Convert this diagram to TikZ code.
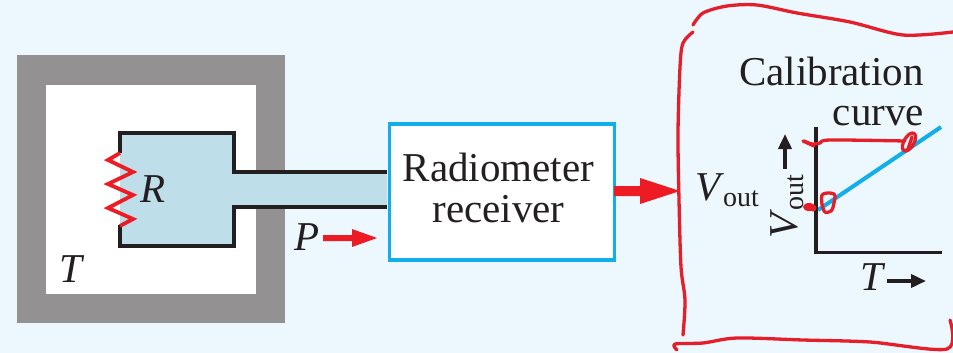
\documentclass[tikz,border=0pt]{standalone}
\usepackage{fontspec}
\setmainfont{Liberation Serif}
\usetikzlibrary{arrows.meta}
\definecolor{bgblue}{HTML}{ECF8FE}
\definecolor{framegray}{HTML}{939192}
\definecolor{guide}{HTML}{BEDFEA}
\definecolor{ink}{HTML}{231F20}
\definecolor{cyanline}{HTML}{12AEEA}
\definecolor{redmark}{HTML}{E41E2B}
\definecolor{redarrow}{HTML}{ED1C24}
\tikzset{
  lbl/.style={text=ink,inner sep=0pt,font=\fontsize{41}{47}\selectfont},
  outline/.style={draw=ink,line width=3.8pt,line cap=butt,line join=miter},
  pen/.style={draw=redmark,line width=3.3pt,line cap=round,line join=round},
  blockarrow/.style={fill=redarrow,draw=none},
  axisline/.style={draw=ink,line width=3.8pt},
  smallarrow/.style={draw=ink,line width=3.6pt,-{Triangle[length=15pt,width=13pt]}}
}
\newcommand{\voutlabel}{\textit{V}\kern-1pt{\fontsize{28}{32}\selectfont\raisebox{-6pt}{out}}}
\begin{document}
\begin{tikzpicture}[x=1pt,y=-1pt]
\useasboundingbox (0,0) rectangle (953,353);
\fill[bgblue] (0,0) rectangle (953,353);
% enclosure
\fill[framegray] (17,55) rectangle (285,323);
\fill[white] (46,85) rectangle (256,294);
% resistor chamber and guide
\fill[guide] (120,133) -- (234,133) -- (234,172) -- (387,172) -- (387,207) -- (234,207) -- (234,246) -- (120,246) -- cycle;
\draw[outline] (120,153) -- (120,133) -- (234,133) -- (234,172) -- (387,172);
\draw[outline] (387,207) -- (234,207) -- (234,246) -- (120,246) -- (120,225);
\draw[draw=redarrow,line width=3.8pt,line join=miter] (120,153) -- (108,160) -- (133,172) -- (108,184) -- (133,195) -- (108,208) -- (133,219) -- (120,226);
\node[lbl,anchor=base] (rlabel) at (153,202) {\textit{R}};
\node[lbl,anchor=base] (tlabel) at (72,282) {\textit{T}};
\node[lbl,anchor=base] (plabel) at (307,250) {\textit{P}};
% receiver
\node[draw=cyanline,line width=3.6pt,fill=white,minimum width=225pt,minimum height=136pt,inner sep=0pt,anchor=north west] (receiver) at (387.5,122) {};
\node[lbl,anchor=base] (rtext1) at (498.5,181) {Radiometer};
\node[lbl,anchor=base] (rtext2) at (498.5,222) {receiver};
% P arrow
\fill[blockarrow] (323,235) -- (352,235) -- (352,229) -- (377,238) -- (352,247) -- (352,241) -- (323,241) -- cycle;
% output arrow
\fill[blockarrow] (614,186) -- (640,186) -- (640,178) -- (680,191) -- (640,204) -- (640,196) -- (614,196) -- cycle;
\node[lbl,anchor=base west] (vout) at (695,200) {\voutlabel};
% graph
\node[lbl,anchor=base] (cal1) at (831.5,85) {Calibration};
\node[lbl,anchor=base] (cal2) at (878.5,125) {curve};
\coordinate (axtop) at (816,127);
\coordinate (axorigin) at (816,252.5);
\coordinate (axend) at (942,252.5);
\draw[draw=cyanline,line width=4pt] (818,210) -- (941,127);
\draw[axisline] (axtop) -- (axorigin) -- (axend);
\node[lbl,anchor=base,rotate=90] (vaxis) at (797,207) {\voutlabel};
\coordinate (vfrom) at (785,169);
\coordinate (vto) at (785,134);
\draw[smallarrow] (vfrom) -- (vto);
\node[lbl,anchor=base] (taxis) at (873,290) {\textit{T}};
\coordinate (tfrom) at (887,281);
\coordinate (tto) at (926,281);
\draw[smallarrow] (tfrom) -- (tto);
% hand-drawn outline
\draw[pen] plot[smooth,tension=0.5] coordinates {(693,25) (703,13) (727,6) (757,5) (797,13) (850,22) (903,35) (953,32)};
\draw[pen] plot[smooth,tension=0.5] coordinates {(693,32) (683,43) (680,67) (678,133) (679,200) (681,267) (685,300) (683,335)};
\draw[pen] plot[smooth,tension=0.5] coordinates {(677,350) (675,344) (703,343) (737,338) (803,340) (870,342) (947,349) (950,320)};
% hand-drawn marks on graph
\draw[pen] plot[smooth,tension=0.5] coordinates {(804,141) (812,144) (820,143) (830,140) (905,141)};
\draw[pen] (803,141) -- (814,146);
\draw[pen,rotate around={60:(909,142)}] (909,142) ellipse (10pt and 5pt);
\draw[pen] (908,149) -- (912,137);
\draw[pen] plot[smooth cycle,tension=0.6] coordinates {(822,195) (834,194) (834,203) (831,211) (824,211)};
\fill[redmark] (809,207) ellipse (6pt and 4pt);
\fill[redmark] (813,208) circle (3.5pt);
\end{tikzpicture}
\end{document}
